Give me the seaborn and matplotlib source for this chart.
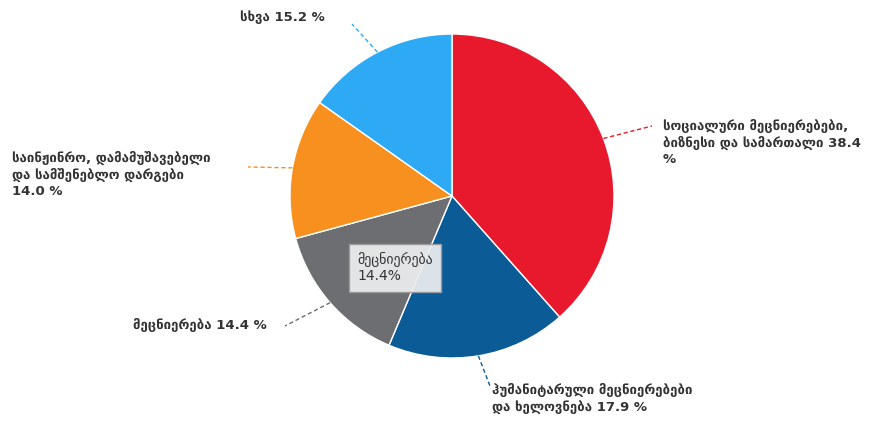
import numpy as np
import matplotlib.pyplot as plt
import seaborn as sns

# --- data ---
categories = [
    'სოციალური მეცნიერებები,\nბიზნესი და სამართალი',
    'ჰუმანიტარული მეცნიერებები\nდა ხელოვნება',
    'მეცნიერება',
    'საინჟინრო, დამამუშავებელი\nდა სამშენებლო დარგები',
    'სხვა',
]
shares = [38.4, 17.9, 14.4, 14.0, 15.2]
colors = ['#E8192C', '#0B5B97', '#6D6E71', '#F7901E', '#2EAAF5']

sns.set_theme(style='white')
plt.rcParams['font.family'] = ['DejaVu Sans']

W, H = 872, 422
fig = plt.figure(figsize=(W / 100, H / 100), dpi=100)
ax = fig.add_axes([0, 0, 1, 1])

cx, cy, r = 452, H - 196, 162
wedges, _ = ax.pie(shares, colors=colors, startangle=90, counterclock=False,
                   center=(cx, cy), radius=r, frame=True,
                   wedgeprops=dict(edgecolor='white', linewidth=1))
ax.set_xlim(0, W)
ax.set_ylim(0, H)
ax.set_aspect('equal')
ax.axis('off')

# label text, anchor (pixels, y from top), leader end
labels = [
    (f'{categories[0]} {shares[0]}\n%', (663, 119), (652, 126)),
    (f'{categories[1]} {shares[1]} %', (492, 383), (490, 386)),
    (f'{categories[2]} {shares[2]} %', (133, 318), (285, 326)),
    (f'{categories[3]}\n{shares[3]} %', (12, 151), (248, 167)),
    (f'{categories[4]} {shares[4]} %', (240, 10), (352, 24)),
]

for w, col, (txt, (tx, ty), (lx, ly)) in zip(wedges, colors, labels):
    mid = np.deg2rad((w.theta1 + w.theta2) / 2)
    x0 = cx + r * np.cos(mid)
    y0 = cy + r * np.sin(mid)
    ax.plot([x0, lx], [y0, H - ly], color=col, lw=1, ls=(0, (3, 2)))
    ax.text(tx, H - ty, txt, ha='left', va='top', fontsize=9.5, fontweight='bold',
            color='#333333', linespacing=1.3)

# tooltip
ax.text(357, H - 252, 'მეცნიერება\n14.4%', ha='left', va='top', fontsize=10,
        color='#333333', linespacing=1.2,
        bbox=dict(boxstyle='square,pad=0.6', facecolor='#E9EBED',
                  edgecolor='#9A9A9A', linewidth=1, alpha=0.95))

fig.savefig('out.png', dpi=100)
